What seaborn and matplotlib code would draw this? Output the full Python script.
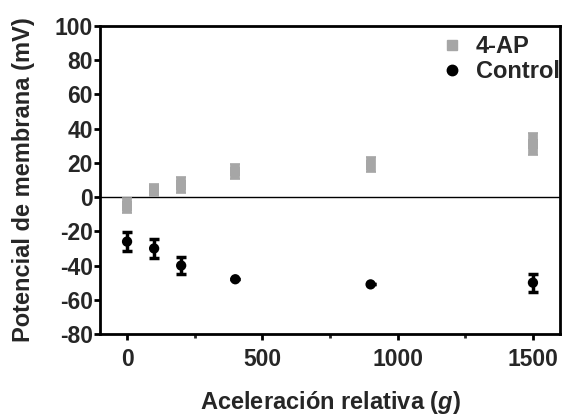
import matplotlib
matplotlib.use("Agg")
import matplotlib.pyplot as plt
import seaborn as sns
import pandas as pd
from matplotlib.ticker import MultipleLocator
from matplotlib.lines import Line2D

x_vals = [0, 100, 200, 400, 900, 1500]
ap_mean = [-5, 4, 7, 15, 19, 31]
ap_err = [4.5, 3.5, 4.5, 4.5, 4.5, 6.3]
ctrl_mean = [-26, -30, -40, -48, -51, -50]
ctrl_err = [5.5, 5.5, 5, 0, 0, 5.3]
series_names = ["4-AP", "Control"]

sns.set_style("ticks")
plt.rcParams['font.family'] = ['Liberation Sans', 'DejaVu Sans']
plt.rcParams['font.weight'] = 'bold'
plt.rcParams['axes.unicode_minus'] = False
plt.rcParams['mathtext.fontset'] = 'custom'
plt.rcParams['mathtext.it'] = 'Liberation Sans:italic:bold'
plt.rcParams['mathtext.rm'] = 'Liberation Sans:bold'
plt.rcParams['mathtext.bf'] = 'Liberation Sans:bold'

gray = "#a6a6a6"
fig = plt.figure(figsize=(5.63, 4.17), dpi=100)
ax = fig.add_axes([100/563, 1-334/417, 460/563, 308/417])

ax.axhline(0, color="black", lw=1.0, zorder=1)

df_ap = pd.DataFrame({"x": x_vals, "y": ap_mean})
df_c = pd.DataFrame({"x": x_vals, "y": ctrl_mean})

ax.errorbar(x_vals, ap_mean, yerr=ap_err, fmt="none", ecolor=gray,
            elinewidth=7, capsize=3.5, capthick=1.2, zorder=2)
ax.errorbar(x_vals, ctrl_mean, yerr=ctrl_err, fmt="none", ecolor="black",
            elinewidth=2.5, capsize=3.6, capthick=2.5, zorder=2)
sns.scatterplot(data=df_ap, x="x", y="y", marker="s", color=gray, s=50,
                edgecolor="none", ax=ax, zorder=3)
sns.scatterplot(data=df_c, x="x", y="y", marker="o", color="black", s=55,
                edgecolor="none", ax=ax, zorder=3)

ax.set_xlim(-100, 1600)
ax.set_ylim(-80, 100)
ax.xaxis.set_major_locator(MultipleLocator(500))
ax.xaxis.set_minor_locator(MultipleLocator(250))
ax.yaxis.set_major_locator(MultipleLocator(20))

for s in ax.spines.values():
    s.set_linewidth(2)
    s.set_color("black")

ax.tick_params(axis="both", which="major", length=4, width=2, labelsize=16.5,
               direction="out", color="black")
ax.tick_params(axis="x", which="minor", length=3, width=2, direction="out")
ax.tick_params(axis="x", pad=6)
ax.tick_params(axis="y", pad=1)
for lab in ax.get_xticklabels() + ax.get_yticklabels():
    lab.set_fontweight("bold")

ax.set_xlabel("Aceleración relativa ($\\it{g}$)", fontsize=17,
              fontweight="bold", labelpad=13)
ax.set_ylabel("Potencial de membrana (mV)", fontsize=17, fontweight="bold",
              labelpad=14)

handles = [Line2D([], [], marker="s", color=gray, ls="none", markersize=7),
           Line2D([], [], marker="o", color="black", ls="none", markersize=7.5)]
leg = ax.legend(handles, series_names, loc="upper left",
                bbox_to_anchor=((443-100)/460, (334-35)/308), frameon=False,
                prop={"weight": "bold", "size": 17}, handlelength=0.8,
                handletextpad=0.6, labelspacing=0.1, borderpad=0,
                borderaxespad=0)

fig.savefig("out.png", dpi=100)
